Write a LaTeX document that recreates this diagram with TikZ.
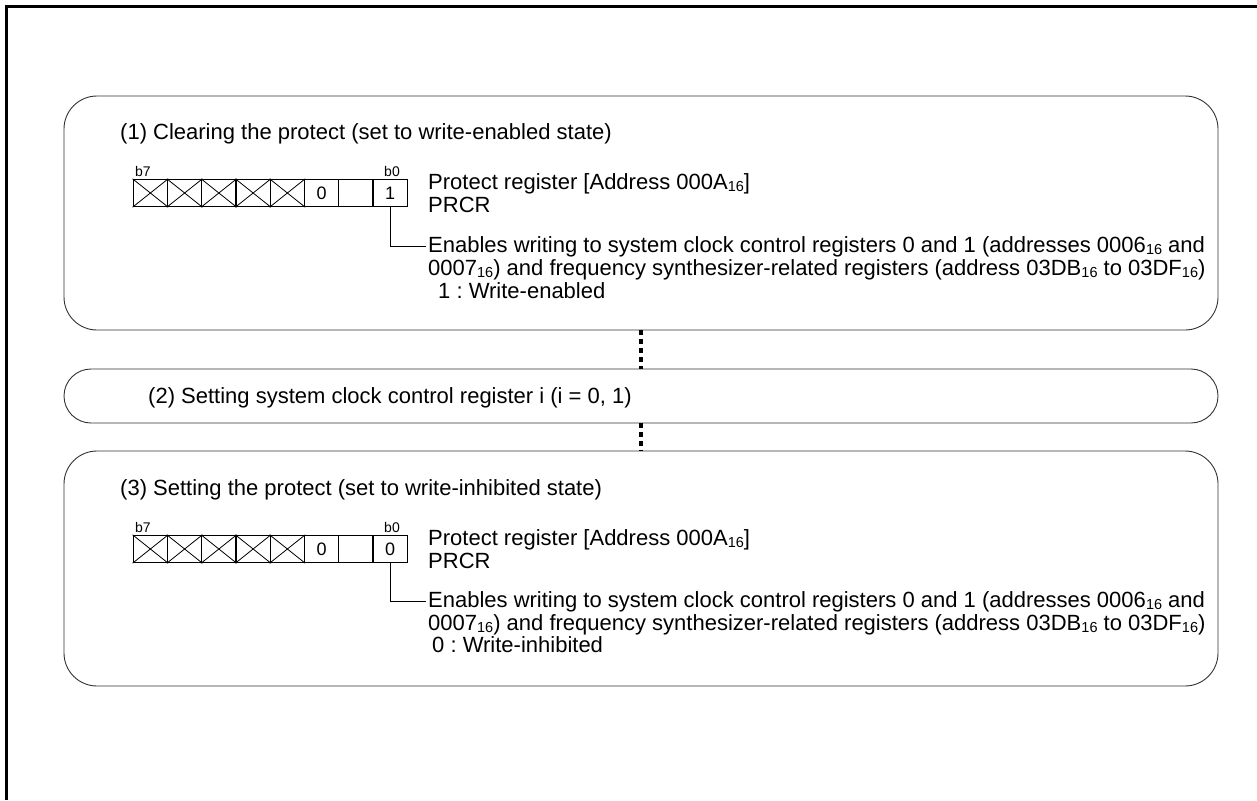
\documentclass[tikz,border=0pt]{standalone}
\usepackage{fontspec}
\setmainfont{Liberation Sans}
\usetikzlibrary{positioning}
\newcommand{\hx}[1]{\raisebox{-1.5pt}{\fontsize{14.5}{14.5}\selectfont #1}}
\frenchspacing

\begin{document}
\begin{tikzpicture}[x=1pt, y=-1pt,
    stage/.style={draw=black!80, line width=0.9pt, rounded corners=33pt, minimum width=1154pt, inner sep=0pt},
    cell/.style={draw, line width=1.4pt, minimum width=34.25pt, minimum height=27pt, inner sep=0pt},
    txt/.style={anchor=base west, inner sep=0pt, font=\fontsize{22}{23}\selectfont},
    bitlbl/.style={anchor=base, inner sep=0pt, font=\fontsize{14}{14}\selectfont},
    bitval/.style={inner sep=0pt, font=\fontsize{18}{18}\selectfont},
    dots/.style={line width=4.5pt, dash pattern=on 4.5pt off 4.5pt},
    lead/.style={line width=0.8pt}
]
\useasboundingbox (0,0) rectangle (1257,800);
\draw[line width=3pt] (6,800) |- (1257,7);

\node[stage, minimum height=234pt] (s1) at (641,213) {};
\node[stage, minimum height=54pt, rounded corners=27pt] (s2) at (641,396) {};
\node[stage, minimum height=235pt] (s3) at (641,568.5) {};
\draw[dots] (s1.south) -- (s2.north);
\draw[dots] (s2.south) -- (s3.north);

% (1) write-enabled
\node[txt] (t1) at (120,139.5) {(1) Clearing the protect (set to write-enabled state)};
\foreach \i in {1,...,8}
  \node[cell] (ra\i) at ({116.125+34.25*\i},193) {};
\foreach \i in {1,...,5}
  \draw[line width=0.8pt] (ra\i.north west) -- (ra\i.south east) (ra\i.south west) -- (ra\i.north east);
\foreach \i/\v in {6/0,8/1}
  \node[bitval] at (ra\i) {\v};
\node[bitlbl] (b7a) at (143,176) {b7};
\node[bitlbl] (b0a) at (392,176) {b0};
\node[txt] (pa) at (428,189.5) {Protect register [Address 000A\hx{16}]};
\node[txt] (pra) at (428,212.5) {PRCR};
\node[txt] (ena) at (428,252.5) {Enables writing to system clock control registers 0 and 1 (addresses 0006\hx{16} and};
\node[txt] (adda) at (428,275.5) {0007\hx{16}) and frequency synthesizer-related registers (address 03DB\hx{16} to 03DF\hx{16})};
\node[txt] (va) at (438,298.5) {1 : Write-enabled};
\draw[lead] (ra8.south) |- ([xshift=-2pt]ena.west);

% (2)
\node[txt] (t2) at (148,403.5) {(2) Setting system clock control register i (i = 0, 1)};

% (3) write-inhibited
\node[txt] (t3) at (120,495.5) {(3) Setting the protect (set to write-inhibited state)};
\foreach \i in {1,...,8}
  \node[cell] (rb\i) at ({116.125+34.25*\i},549) {};
\foreach \i in {1,...,5}
  \draw[line width=0.8pt] (rb\i.north west) -- (rb\i.south east) (rb\i.south west) -- (rb\i.north east);
\foreach \i/\v in {6/0,8/0}
  \node[bitval] at (rb\i) {\v};
\node[bitlbl] (b7b) at (143,532) {b7};
\node[bitlbl] (b0b) at (392,532) {b0};
\node[txt] (pb) at (428,545.5) {Protect register [Address 000A\hx{16}]};
\node[txt] (prb) at (428,568.5) {PRCR};
\node[txt] (enb) at (428,607.5) {Enables writing to system clock control registers 0 and 1 (addresses 0006\hx{16} and};
\node[txt] (addb) at (428,630.5) {0007\hx{16}) and  frequency synthesizer-related registers (address 03DB\hx{16} to 03DF\hx{16})};
\node[txt] (vb) at (432,652.5) {0 : Write-inhibited};
\draw[lead] (rb8.south) |- ([xshift=-2pt]enb.west);
\end{tikzpicture}
\end{document}
